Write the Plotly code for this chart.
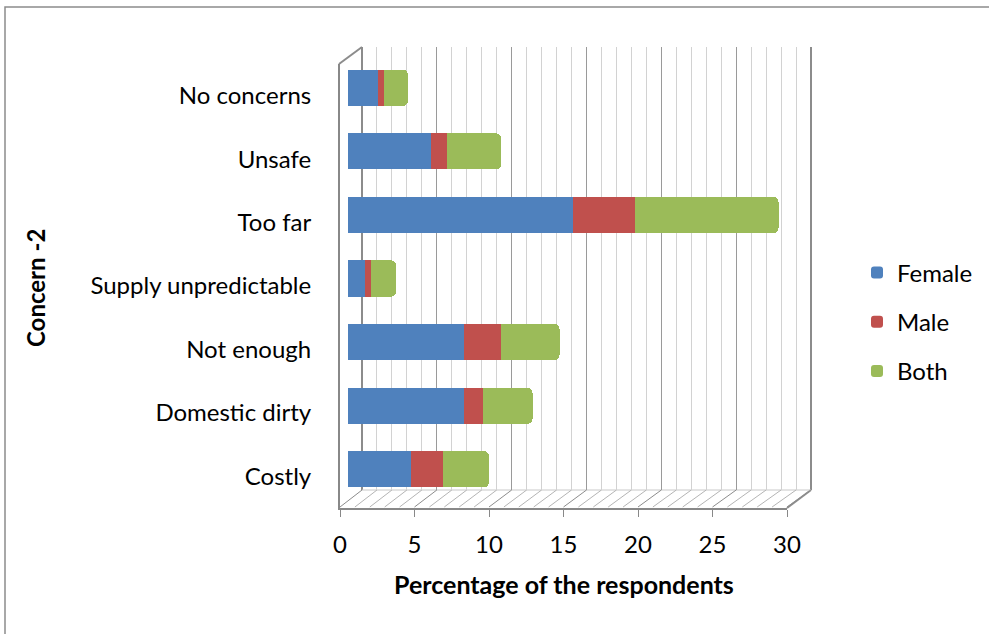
import plotly.graph_objects as go

# Survey data: share of respondents (%) by concern and by who collects water
categories = ["Costly", "Domestic dirty", "Not enough", "Supply unpredictable",
              "Too far", "Unsafe", "No concerns"]
female = [4.2, 7.7, 7.7, 1.1, 15.0, 5.5, 2.0]
male = [2.1, 1.3, 2.5, 0.45, 4.1, 1.1, 0.4]
both = [3.1, 3.3, 3.9, 1.65, 9.6, 3.6, 1.6]
x_ticks = [0, 5, 10, 15, 20, 25, 30]

W, H = 989, 634
FONT = "Lato"
FS = 24

def px_x(p):
    return p / W

def px_y(p):
    return 1 - p / H

fig = go.Figure()

# empty traces so the back-wall and front-axis subplots get drawn
fig.add_trace(go.Scatter(x=[], y=[], xaxis="x", yaxis="y", showlegend=False,
                         hoverinfo="skip"))

series = [("Female", female, "#4F81BD"),
          ("Male", male, "#C0504D"),
          ("Both", both, "#9BBB59")]
for name, vals, col in series:
    fig.add_trace(go.Bar(
        y=list(range(len(categories))), x=vals, name=name, orientation="h",
        marker=dict(color=col, line=dict(width=0)),
        width=0.57, xaxis="x2", yaxis="y2", legendgroup=name,
    ))

fig.add_trace(go.Scatter(x=[], y=[], xaxis="x3", yaxis="y3", showlegend=False,
                         hoverinfo="skip"))

# back wall with vertical gridlines (first subplot, painted beneath the bars)
wall_x = dict(domain=[px_x(362), px_x(811)], range=[0, 30], showgrid=True,
              gridcolor="#9A9A9A", gridwidth=1, dtick=5, showticklabels=False,
              ticks="", zeroline=False, showline=False, automargin=False,
              minor=dict(dtick=1, showgrid=True, gridcolor="#D2D2D2", gridwidth=1))
wall_y = dict(domain=[px_y(490), px_y(47)], range=[0, 1], showgrid=False,
              showticklabels=False, zeroline=False, showline=False, ticks="",
              automargin=False)

bar_x = dict(domain=[px_x(348), px_x(798)], range=[0, 30], showgrid=False,
             showticklabels=False, zeroline=False, showline=False, ticks="",
             anchor="y2", automargin=False)
bar_y = dict(domain=[px_y(501), px_y(56)], range=[-0.5, len(categories) - 0.5],
             showgrid=False, showticklabels=False, zeroline=False,
             showline=False, ticks="", anchor="x2", automargin=False)

# front axes carrying the tick labels
front_x = dict(domain=[px_x(340), px_x(787)], range=[0, 30], tickvals=x_ticks,
               ticks="outside", ticklen=7, tickcolor="#888888",
               showline=True, linecolor="#888888", linewidth=2,
               showgrid=False, zeroline=False, anchor="y3", automargin=False,
               tickfont=dict(family=FONT, size=FS, color="black"),
               ticklabelstandoff=7)
front_y = dict(domain=[px_y(508), px_y(64)], range=[-0.5, len(categories) - 0.5],
               tickvals=list(range(len(categories))), ticktext=categories,
               ticks="", showline=True, linecolor="#888888", linewidth=2,
               showgrid=False, zeroline=False, anchor="x3", automargin=False,
               tickfont=dict(family=FONT, size=FS, color="black"),
               ticklabelstandoff=22)

# outer frame, side wall and floor edges (all beneath the bars)
def edge(x0, y0, x1, y1, color="#8C8C8C", width=2):
    return dict(type="line", xref="paper", yref="paper", layer="below",
                x0=px_x(x0), y0=px_y(y0), x1=px_x(x1), y1=px_y(y1),
                line=dict(color=color, width=width))

shapes = [
    dict(type="rect", xref="paper", yref="paper", layer="below",
         x0=px_x(5), x1=1.05, y0=-0.05, y1=px_y(7),
         line=dict(color="#8C8C8C", width=1.5)),
    edge(339, 64, 362, 47),
    edge(362, 47, 362, 490),
    edge(811, 47, 811, 490),
    edge(811, 490, 787, 508),
    edge(362, 490, 811, 490, color="#C8C8C8", width=1),
]
for k in range(0, 31):
    fx = 340 + k * (447 / 30)
    bx = 362 + k * (449 / 30)
    shapes.append(edge(fx, 507, bx, 490,
                       color="#B4B4B4" if k % 5 else "#8C8C8C", width=1))

fig.update_layout(
    width=W, height=H,
    margin=dict(l=0, r=0, t=0, b=0, autoexpand=False),
    paper_bgcolor="white", plot_bgcolor="rgba(0,0,0,0)",
    barmode="stack", bargap=0.43, barcornerradius=5,
    xaxis=wall_x, yaxis=wall_y,
    xaxis2=bar_x, yaxis2=bar_y,
    xaxis3=front_x, yaxis3=front_y,
    shapes=shapes,
    showlegend=True,
    legend=dict(x=px_x(857), y=px_y(322), xanchor="left", yanchor="middle",
                traceorder="grouped", tracegroupgap=15,
                font=dict(family=FONT, size=FS, color="black"),
                bgcolor="rgba(0,0,0,0)"),
    annotations=[
        dict(text="<b>Percentage of the respondents</b>", xref="paper",
             yref="paper", x=px_x(564), y=px_y(584), showarrow=False,
             font=dict(family=FONT, size=25, color="black"),
             xanchor="center", yanchor="middle"),
        dict(text="<b>Concern -2</b>", xref="paper", yref="paper",
             x=px_x(35), y=px_y(288), showarrow=False, textangle=-90,
             font=dict(family=FONT, size=FS, color="black"),
             xanchor="center", yanchor="middle"),
    ],
)

fig.write_html("out.html")
